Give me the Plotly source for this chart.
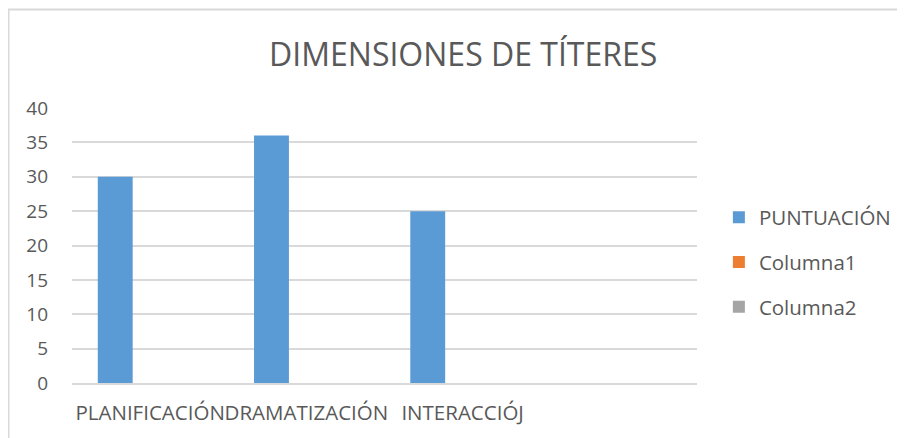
import plotly.graph_objects as go

# Datos del gráfico
categorias = ["PLANIFICACIÓN", "DRAMATIZACIÓN", "INTERACCIÓJ", " "]
puntuacion = [30, 36, 25, None]
columna1 = [None, None, None, None]
columna2 = [None, None, None, None]

gris_texto = "#595959"
gris_linea = "#D9D9D9"
fuente = "Open Sans"

fig = go.Figure()

series = [
    ("PUNTUACIÓN", puntuacion, "#5B9BD5"),
    ("Columna1", columna1, "#ED7D31"),
    ("Columna2", columna2, "#A5A5A5"),
]
for nombre, valores, color in series:
    fig.add_trace(go.Bar(
        x=categorias,
        y=valores,
        name=nombre,
        marker=dict(color=color, line=dict(width=0)),
        legendgroup=nombre,
    ))

fig.update_layout(
    width=905,
    height=438,
    autosize=False,
    margin=dict(l=64, r=216, t=100, b=63),
    paper_bgcolor="white",
    plot_bgcolor="white",
    font=dict(family=fuente, color=gris_texto),
    title=dict(
        text="DIMENSIONES DE TÍTERES",
        font=dict(size=32, color=gris_texto),
        x=0.503, xanchor="center",
        y=0.893, yanchor="middle",
    ),
    barmode="group",
    bargap=0.33,
    bargroupgap=0,
    legend=dict(
        x=1.035, xanchor="left",
        y=0.44, yanchor="middle",
        font=dict(size=20.5, color=gris_texto),
        itemwidth=30,
        tracegroupgap=15,
        bgcolor="rgba(0,0,0,0)",
    ),
    showlegend=True,
)

fig.update_xaxes(
    type="category",
    categoryorder="array",
    categoryarray=categorias,
    range=[-0.5, 3.5],
    showline=True,
    linecolor=gris_linea,
    linewidth=1.5,
    showgrid=False,
    ticks="",
    tickangle=0,
    automargin=False,
    ticklabelstandoff=11,
    tickfont=dict(size=20.5, color=gris_texto),
    fixedrange=True,
)

fig.update_yaxes(
    range=[0, 40],
    dtick=5,
    showgrid=True,
    gridcolor=gris_linea,
    gridwidth=1.5,
    zeroline=False,
    showline=False,
    ticks="",
    automargin=False,
    ticklabelstandoff=23,
    tickfont=dict(size=19, color=gris_texto),
    fixedrange=True,
)

# Borde del área del gráfico (arriba e izquierda visibles)
fig.add_shape(
    type="rect",
    xref="paper", yref="paper",
    x0=-0.1016, x1=1.5, y0=-0.5, y1=1.358,
    line=dict(color=gris_linea, width=2),
    fillcolor="rgba(0,0,0,0)",
    layer="below",
)

fig.write_html("out.html")
